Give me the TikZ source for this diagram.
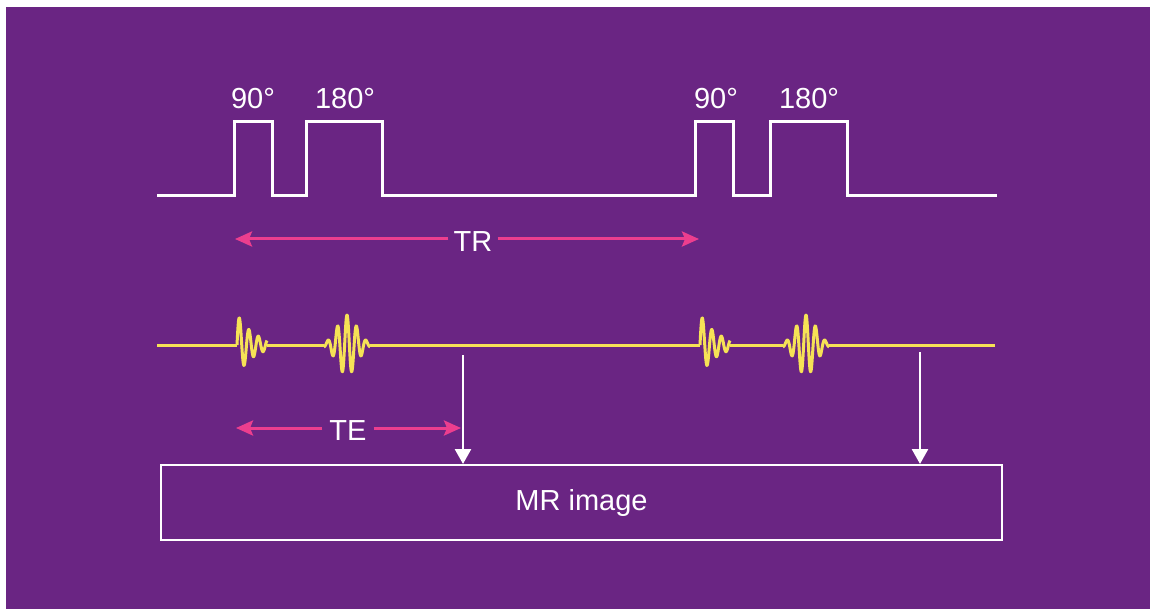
\documentclass[tikz,border=0pt]{standalone}
\usepackage{fontspec}
\setmainfont{Liberation Sans}
\usetikzlibrary{arrows.meta}
\definecolor{bgpurple}{RGB}{106,37,131}
\definecolor{trmag}{RGB}{236,62,142}
\definecolor{sigyellow}{RGB}{246,226,86}
\tikzset{
  lbl/.style={text=white, inner sep=1pt, font=\fontsize{29}{32}\selectfont},
  pulse/.style={white, line width=3pt, line join=miter},
  sig/.style={sigyellow, line width=3pt, line join=round},
  timing/.style={trmag, line width=3pt, -{Stealth[length=17pt,width=15pt,inset=3pt]}},
  readout/.style={white, line width=2.6pt, -{Triangle[length=15pt,width=16pt]}},
  imgbox/.style={draw=white, line width=2pt, minimum width=841pt, minimum height=75pt, text=white, font=\fontsize{29}{32}\selectfont}
}
\begin{document}
\begin{tikzpicture}[x=1pt,y=-1pt]
\useasboundingbox (0,0) rectangle (1150,609);
\fill[white] (0,0) rectangle (1150,609);
\fill[bgpurple] (6,7) rectangle (1150,609);

% RF pulse train
\draw[pulse] (157,196) -- (234,196) -- (234,122) -- (272,122) -- (272,196)
  -- (306,196) -- (306,122) -- (382,122) -- (382,196)
  -- (695,196) -- (695,122) -- (733,122) -- (733,196)
  -- (770,196) -- (770,122) -- (847,122) -- (847,196) -- (997,196);
\node[lbl] (p90a)  at (253,99) {90°};
\node[lbl] (p180a) at (345,99) {180°};
\node[lbl] (p90b)  at (716,99) {90°};
\node[lbl] (p180b) at (809,99) {180°};

% TR
\node[lbl] (tr) at (473,242) {TR};
\coordinate (trL) at (235,239);
\coordinate (trR) at (699,239);
\draw[timing] (tr.west) ++(-4,-3) -- (trL);
\draw[timing] (tr.east) ++(4,-3) -- (trR);

% signal line
\draw[sig] (157,345) -- (237,345);
\draw[sig] plot[domain=0:30,samples=180,smooth] ({237+\x},{345-31*exp(-\x/17)*sin(360*\x/9.5)});
\draw[sig] (267,345) -- (324,345);
\draw[sig] plot[domain=-23:23,samples=220,smooth] ({347+\x},{345-30*exp(-(\x/14)^2)*cos(360*\x/9.5)});
\draw[sig] (370,345) -- (700,345);
\draw[sig] plot[domain=0:30,samples=180,smooth] ({700+\x},{345-31*exp(-\x/17)*sin(360*\x/9.5)});
\draw[sig] (730,345) -- (783,345);
\draw[sig] plot[domain=-23:23,samples=220,smooth] ({806+\x},{345-30*exp(-(\x/14)^2)*cos(360*\x/9.5)});
\draw[sig] (829,345) -- (995,345);

% MR image box
\node[imgbox] (img) at (581.5,502.5) {MR image};
\coordinate (r1) at (463,355);
\coordinate (r2) at (920,352);
\draw[readout] (r1) -- (r1 |- img.north);
\draw[readout] (r2) -- (r2 |- img.north);

% TE
\node[lbl] (te) at (348,431) {TE};
\coordinate (teL) at (236,428);
\coordinate (teR) at (461,428);
\draw[timing] (te.west) ++(-6,-3) -- (teL);
\draw[timing] (te.east) ++(6,-3) -- (teR);
\end{tikzpicture}
\end{document}
